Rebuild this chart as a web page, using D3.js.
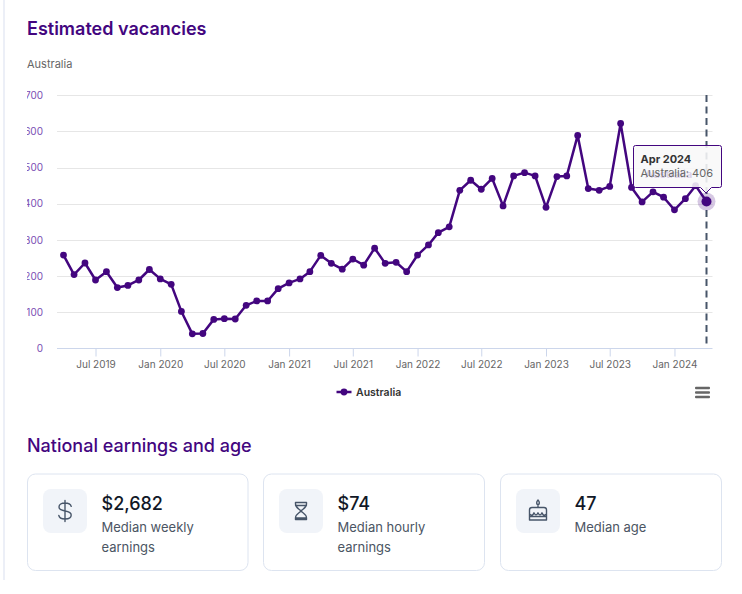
<!DOCTYPE html>
<html><head><meta charset="utf-8">
<script src="https://cdn.jsdelivr.net/npm/d3@7/dist/d3.min.js"></script>
<style>
html,body{margin:0;padding:0;background:#fff;overflow:hidden}
svg{display:block;font-family:Inter,"Noto Sans",sans-serif}
</style></head><body><svg id="c" width="742" height="594"></svg>
<script>
const seriesName = "Australia";
const firstMonth = "2019-04", lastMonth = "2024-04";
const vacancies = [258,204,236,189,212,168,174,189,218,192,177,102,40,41,80,82,81,119,131,131,165,181,192,212,257,235,219,247,230,277,235,238,212,258,286,320,336,437,465,440,470,394,477,486,477,390,475,477,589,442,437,448,622,445,405,433,418,383,414,450,406];
const xTickMonths = ["2019-07","2020-01","2020-07","2021-01","2021-07","2022-01","2022-07","2023-01","2023-07","2024-01"];
const yTicks = [0,100,200,300,400,500,600,700];
const cards = [
  {value:"$2,682", label:["Median weekly","earnings"], icon:"dollar"},
  {value:"$74", label:["Median hourly","earnings"], icon:"hourglass"},
  {value:"47", label:["Median age"], icon:"cake"}
];
const titleA = "Estimated vacancies", titleB = "National earnings and age";

const PURPLE="#43067f", svg=d3.select("#c");
const parse=d3.utcParse("%Y-%m");
const months=d3.utcMonth.range(parse(firstMonth),d3.utcMonth.offset(parse(lastMonth),1));
const data=months.map((d,i)=>({d,v:vacancies[i]}));
const x=d3.scaleUtc().domain([parse(firstMonth),parse(lastMonth)]).range([63.5,706.5]);
const y=d3.scaleLinear().domain([0,700]).range([348.3,95.3]);

svg.append("rect").attr("x",3.5).attr("y",0).attr("width",1).attr("height",580).attr("fill","#d9e0f0");
const text=(s,px,py,size,weight,fill,anchor)=>svg.append("text").attr("x",px).attr("y",py).attr("font-size",size).attr("font-weight",weight).attr("fill",fill).attr("text-anchor",anchor||"start").text(s);
text(titleA,27,35,18,600,PURPLE);
text(seriesName,27,68,11,400,"#666");
text(titleB,27,452,18,500,PURPLE);

// gridlines + y axis
svg.append("clipPath").attr("id","yclip").append("rect").attr("x",27).attr("y",80).attr("width",40).attr("height",290);
const yAxis=svg.append("g").attr("transform","translate(43,0)").attr("clip-path",null)
  .call(d3.axisLeft(y).tickValues(yTicks).tickSize(0).tickPadding(0).tickFormat(d3.format("d")));
yAxis.select(".domain").remove();
yAxis.selectAll("text").attr("font-family","Inter").attr("font-size",10).attr("fill","#7a4db3");
const yWrap=svg.append("g").attr("clip-path","url(#yclip)"); yWrap.node().appendChild(yAxis.node());
svg.append("g").selectAll("line").data(yTicks.filter(t=>t>0)).join("line")
  .attr("x1",57).attr("x2",712.5).attr("y1",d=>Math.round(y(d))+.5).attr("y2",d=>Math.round(y(d))+.5)
  .attr("stroke","#e6e6e6");

// x axis
const xAxis=svg.append("g").attr("transform","translate(0,348.5)")
  .call(d3.axisBottom(x).tickValues(xTickMonths.map(parse)).tickSize(8).tickPadding(4).tickFormat(d3.utcFormat("%b %Y")));
xAxis.select(".domain").attr("d","M57,0H712.5").attr("stroke","#ccd6eb");
xAxis.selectAll("line").attr("stroke","#ccd6eb");
xAxis.selectAll("text").attr("font-family","Inter").attr("font-size",10).attr("fill","#666");

// series
const lastPoint=data[data.length-1];
svg.append("line").attr("x1",x(lastPoint.d)).attr("x2",x(lastPoint.d)).attr("y1",95).attr("y2",348)
  .attr("stroke","#475569").attr("stroke-width",2).attr("stroke-dasharray","7,4.5");
svg.append("path").datum(data).attr("fill","none").attr("stroke",PURPLE).attr("stroke-width",2.5).attr("stroke-linejoin","round")
  .attr("d",d3.line().x(d=>x(d.d)).y(d=>y(d.v)));
svg.append("g").selectAll("circle").data(data.slice(0,-1)).join("circle")
  .attr("cx",d=>x(d.d)).attr("cy",d=>y(d.v)).attr("r",3.4).attr("fill",PURPLE);
svg.append("circle").attr("cx",x(lastPoint.d)).attr("cy",y(lastPoint.v)).attr("r",9).attr("fill",PURPLE).attr("opacity",.22);
svg.append("circle").attr("cx",x(lastPoint.d)).attr("cy",y(lastPoint.v)).attr("r",5).attr("fill",PURPLE);

// ghost label + tooltip
svg.append("path")
  .attr("d","M635.5,145.5H719.5a2,2 0 0 1 2,2V185.5a2,2 0 0 1 -2,2H711.5L706,193L700.5,187.5H635.5a2,2 0 0 1 -2,-2V147.5a2,2 0 0 1 2,-2Z")
  .attr("fill","rgba(248,248,248,.88)").attr("stroke",PURPLE).attr("stroke-width",1);
text(seriesName,645,178,11,600,"#d9d0e8");
text("Apr 2024",640.5,163,11,700,"#333");
text(`${seriesName}: ${lastPoint.v}`,640.5,177,11,400,"#666");

// legend
const lg=svg.append("g");
lg.append("line").attr("x1",336.5).attr("x2",351.5).attr("y1",392).attr("y2",392).attr("stroke",PURPLE).attr("stroke-width",2.5);
lg.append("circle").attr("cx",344).attr("cy",392).attr("r",3.4).attr("fill",PURPLE);
text(seriesName,356,396,10.5,600,"#333");

// menu
[388,392.5,397].forEach(m=>svg.append("rect").attr("x",695).attr("y",m-1.25).attr("width",15).attr("height",2.5).attr("rx",1).attr("fill","#666"));

// cards
const cardX=[27.5,263.5,500.5], cardW=[220.5,221,221];
const icons={
 dollar:g=>{g.append("path").attr("d","M6.2,-4.6C5.6,-7 3,-8 0,-8C-3.6,-8 -6,-6.4 -6,-4C-6,-1.4 -3.4,-.6 0,0C3.4,.6 6.2,1.4 6.2,4C6.2,6.4 3.6,8 0,8C-3,8 -5.8,7 -6.2,4.4M0,-10.5V10.5");},
 hourglass:g=>{g.append("path").attr("d","M-5.5,-8.5H5.5V-7C5.5,-3 1.5,-2 0,0C1.5,2 5.5,3 5.5,7V8.5H-5.5V7C-5.5,3 -1.5,2 0,0C-1.5,-2 -5.5,-3 -5.5,-7ZM-5.5,-5.5H5.5M-5.5,7H5.5");},
 cake:g=>{g.append("path").attr("d","M-8.5,9H8.5V-1A2.5,2.5 0 0 0 6,-3.5H-6A2.5,2.5 0 0 0 -8.5,-1ZM-8.5,3C-6.5,4.8 -5,4.8 -4,1.8C-3,4.5 -1,4.5 0,1.8C1,4.5 3,4.5 4,1.8C5,4.8 6.5,4.8 8.5,3M-8.5,5.5H8.5M0,-3.5V-6.5M0,-11C-1.8,-9 -1.8,-6.5 0,-6.5C1.8,-6.5 1.8,-9 0,-11Z");}
};
cards.forEach((c,i)=>{
  const cx=cardX[i];
  svg.append("rect").attr("x",cx).attr("y",474).attr("width",cardW[i]).attr("height",96.5).attr("rx",8).attr("fill","#fff").attr("stroke","#dde4f0");
  svg.append("rect").attr("x",cx+15.5).attr("y",489).attr("width",44).attr("height",44).attr("rx",8).attr("fill","#f1f4f9");
  const g=svg.append("g").attr("transform",`translate(${cx+37.5},511)`).attr("fill","none").attr("stroke","#475569").attr("stroke-width",1.4).attr("stroke-linejoin","round").attr("stroke-linecap","round");
  icons[c.icon](g);
  text(c.value,cx+74,510,18,500,"#111827");
  c.label.forEach((l,j)=>text(l,cx+74,532+j*19.5,13,400,"#4b5563"));
});
</script></body></html>
